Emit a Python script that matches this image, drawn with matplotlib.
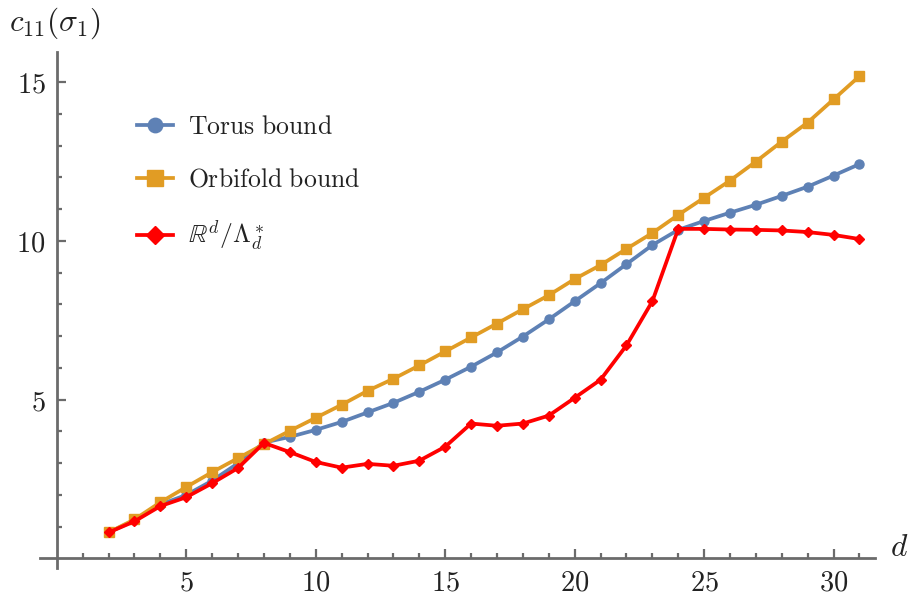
import matplotlib
matplotlib.use("Agg")
import matplotlib.pyplot as plt
from matplotlib.ticker import FixedLocator

plt.rcParams['mathtext.fontset'] = 'cm'
plt.rcParams['font.family'] = 'serif'
plt.rcParams['font.serif'] = ['DejaVu Serif']

# dimension d
d = list(range(2, 32))

torus = [0.82, 1.2, 1.7, 2.0, 2.45, 3.0, 3.65, 3.83, 4.05, 4.3, 4.6, 4.9,
         5.25, 5.63, 6.04, 6.49, 6.99, 7.53, 8.1, 8.67, 9.27, 9.87, 10.35,
         10.63, 10.89, 11.14, 11.42, 11.71, 12.06, 12.42]
orbifold = [0.82, 1.23, 1.77, 2.25, 2.72, 3.16, 3.6, 4.02, 4.43, 4.84, 5.28,
            5.66, 6.08, 6.52, 6.96, 7.4, 7.85, 8.29, 8.8, 9.24, 9.75, 10.25,
            10.82, 11.36, 11.9, 12.5, 13.13, 13.73, 14.46, 15.19]
lattice = [0.82, 1.17, 1.65, 1.93, 2.37, 2.85, 3.64, 3.35, 3.04, 2.86, 2.98,
           2.92, 3.08, 3.52, 4.25, 4.18, 4.25, 4.5, 5.06, 5.63, 6.71, 8.1,
           10.38, 10.38, 10.36, 10.35, 10.33, 10.28, 10.19, 10.06]

blue = '#5E81B5'
orange = '#E19C24'
red = '#FF0000'
axcol = '#6b6b6b'

fig = plt.figure(figsize=(9.13, 6.0), dpi=100)
ax = fig.add_axes([0.0438, 0.0533, 0.9146, 0.86])

ax.plot(d, torus, color=blue, lw=2.7, marker='o', ms=6.5, label=r'$\mathrm{Torus\ bound}$')
ax.plot(d, orbifold, color=orange, lw=2.7, marker='s', ms=7, label=r'$\mathrm{Orbifold\ bound}$')
ax.plot(d, lattice, color=red, lw=2.7, marker='D', ms=5.5, label=r'$\mathbb{R}^d/\Lambda_d^*$')

ax.set_xlim(-0.65, 31.6)
ax.set_ylim(-0.3, 15.95)

for s in ['top', 'right']:
    ax.spines[s].set_visible(False)
for s in ['left', 'bottom']:
    ax.spines[s].set_position(('data', 0))
    ax.spines[s].set_color(axcol)
    ax.spines[s].set_linewidth(2.0)

xmaj = [5, 10, 15, 20, 25, 30]
ymaj = [5, 10, 15]
ax.xaxis.set_major_locator(FixedLocator(xmaj))
ax.xaxis.set_minor_locator(FixedLocator([i for i in range(1, 32) if i % 5]))
ax.yaxis.set_major_locator(FixedLocator(ymaj))
ax.yaxis.set_minor_locator(FixedLocator([i for i in range(1, 15) if i % 5]))
ax.set_xticklabels(['$%d$' % v for v in xmaj])
ax.set_yticklabels(['$%d$' % v for v in ymaj])
ax.tick_params(which='both', direction='in', color=axcol, width=1.6, labelsize=20.5, labelcolor='#222222')
ax.tick_params(which='major', length=6.5, pad=8)
ax.tick_params(which='minor', length=3.5)

fig.text(0.010, 0.962, r'$c_{11}(\sigma_1)$', fontsize=22.5, va='center', ha='left', color='#222222')
fig.text(0.975, 0.087, r'$d$', fontsize=22.5, va='center', ha='left', color='#222222')

leg = ax.legend(loc='upper left', bbox_to_anchor=(0.116, 0.879), frameon=False, fontsize=18.5,
                borderaxespad=0, borderpad=0, handlelength=1.4, handletextpad=0.58,
                labelspacing=1.06, markerscale=1.6)
for t in leg.get_texts():
    t.set_color('#222222')

fig.savefig('out.png', dpi=100)
